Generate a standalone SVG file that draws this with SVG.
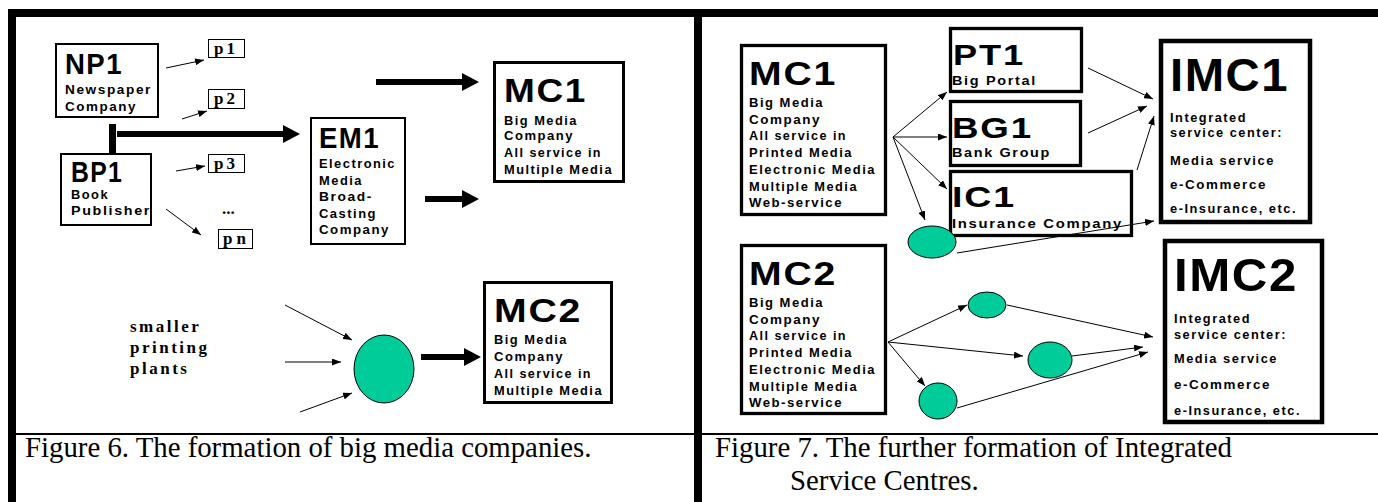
<svg xmlns="http://www.w3.org/2000/svg" width="1378" height="502" viewBox="0 0 1378 502">
<defs>
<marker id="ah" markerUnits="userSpaceOnUse" markerWidth="9" markerHeight="7" refX="9" refY="3.5" orient="auto"><path d="M0,0 L9,3.5 L0,7 z" fill="#000"/></marker>
<marker id="ahb" markerUnits="userSpaceOnUse" markerWidth="17" markerHeight="18" refX="0" refY="9" orient="auto"><path d="M0,0 L17,9 L0,18 z" fill="#000"/></marker>
</defs>
<style>
.fr{fill:#000}
.box{fill:#fff;stroke:#000}
.pbox{fill:#fff;stroke:#000;stroke-width:1}
.t{font-family:"Liberation Sans",Arial,sans-serif;font-weight:bold;fill:#000;letter-spacing:1.5px}
.s{font-family:"Liberation Serif","Times New Roman",serif;font-weight:bold;font-size:17px;fill:#000}
.cap{font-family:"Liberation Serif","Times New Roman",serif;font-size:28.8px;fill:#000}
.thin{stroke:#000;stroke-width:1;fill:none;marker-end:url(#ah)}
.thick{stroke:#000;stroke-width:6;fill:none;marker-end:url(#ahb)}
.ell{fill:#00CC99;stroke:#000;stroke-width:1}
.f13{font-size:13px}
.f12{font-size:12.5px}
</style>
<g id="frame">
<rect class="fr" x="8" y="9" width="1370" height="8"/>
<rect class="fr" x="8" y="9" width="8" height="493"/>
<rect class="fr" x="694" y="9" width="8" height="493"/>
<rect class="fr" x="16" y="433" width="1362" height="2"/>
</g>
<g id="connectors">
<line class="thin" x1="166" y1="68" x2="204" y2="60"/>
<line class="thin" x1="182" y1="119" x2="207" y2="111"/>
<line class="thin" x1="176" y1="171" x2="205" y2="166"/>
<line class="thin" x1="166" y1="209" x2="201" y2="235"/>
<rect class="fr" x="109" y="124" width="7" height="33"/>
<line class="thick" x1="117" y1="134" x2="283" y2="134"/>
<line class="thick" x1="376" y1="82" x2="462" y2="82"/>
<line class="thick" x1="425" y1="199" x2="462" y2="199"/>
<line class="thin" x1="285" y1="305" x2="352" y2="340"/>
<line class="thin" x1="285" y1="362" x2="341" y2="362"/>
<line class="thin" x1="300" y1="412" x2="352" y2="393"/>
<line class="thick" x1="421" y1="357" x2="464" y2="357"/>
<line class="thin" x1="893" y1="137" x2="947" y2="92"/>
<line class="thin" x1="893" y1="137" x2="947" y2="137"/>
<line class="thin" x1="893" y1="137" x2="947" y2="189"/>
<line class="thin" x1="893" y1="137" x2="925" y2="220"/>
<line class="thin" x1="1088" y1="68" x2="1153" y2="99"/>
<line class="thin" x1="1088" y1="133" x2="1147" y2="106"/>
<line class="thin" x1="1137" y1="170" x2="1154" y2="116"/>
<line class="thin" x1="888" y1="342" x2="967" y2="305"/>
<line class="thin" x1="888" y1="342" x2="1023" y2="356"/>
<line class="thin" x1="888" y1="342" x2="925" y2="386"/>
<line class="thin" x1="1007" y1="305" x2="1153" y2="337"/>
<line class="thin" x1="1072" y1="356" x2="1143" y2="347"/>
<line class="thin" x1="957" y1="408" x2="1148" y2="352"/>
</g>
<g id="NP1">
<rect class="box" stroke-width="2" x="56" y="44" width="102" height="73"/>
<text class="t" x="65" y="74" font-size="29" textLength="58" lengthAdjust="spacingAndGlyphs">NP1</text>
<text class="t f13" x="65" y="94" textLength="87" lengthAdjust="spacingAndGlyphs">Newspaper</text>
<text class="t f13" x="65" y="111" textLength="72" lengthAdjust="spacingAndGlyphs">Company</text>
</g>
<g id="BP1">
<rect class="box" stroke-width="2" x="61" y="154" width="90" height="71"/>
<text class="t" x="71" y="182" font-size="29" textLength="52" lengthAdjust="spacingAndGlyphs">BP1</text>
<text class="t f13" x="71" y="199" textLength="38" lengthAdjust="spacingAndGlyphs">Book</text>
<text class="t f13" x="71" y="215" textLength="80" lengthAdjust="spacingAndGlyphs">Publisher</text>
</g>
<g id="p1"><rect class="pbox" x="208.5" y="39.5" width="36" height="18"/><text class="s" x="214" y="54" textLength="21">p1</text></g>
<g id="p2"><rect class="pbox" x="208.5" y="89.5" width="36" height="19"/><text class="s" x="214" y="104" textLength="21">p2</text></g>
<g id="p3"><rect class="pbox" x="208.5" y="154.5" width="36" height="18"/><text class="s" x="214" y="169" textLength="21">p3</text></g>
<g id="dots"><text class="s" x="222" y="214">...</text></g>
<g id="pn"><rect class="pbox" x="218.5" y="229.5" width="34" height="19"/><text class="s" x="223" y="244" textLength="23">pn</text></g>
<g id="EM1">
<rect class="box" stroke-width="2" x="311" y="118" width="94" height="126"/>
<text class="t" x="319" y="148" font-size="29" textLength="61" lengthAdjust="spacingAndGlyphs">EM1</text>
<text class="t f13" x="319" y="168" textLength="77" lengthAdjust="spacingAndGlyphs">Electronic</text>
<text class="t f13" x="319" y="185" textLength="44" lengthAdjust="spacingAndGlyphs">Media</text>
<text class="t f13" x="319" y="201" textLength="54" lengthAdjust="spacingAndGlyphs">Broad-</text>
<text class="t f13" x="319" y="218" textLength="58" lengthAdjust="spacingAndGlyphs">Casting</text>
<text class="t f13" x="319" y="234" textLength="71" lengthAdjust="spacingAndGlyphs">Company</text>
</g>
<g id="MC1a">
<rect class="box" stroke-width="3" x="494.5" y="62.5" width="129" height="119"/>
<text class="t" x="504" y="102" font-size="34" textLength="83" lengthAdjust="spacingAndGlyphs">MC1</text>
<text class="t f13" x="504" y="125" textLength="74" lengthAdjust="spacingAndGlyphs">Big Media</text>
<text class="t f13" x="504" y="140" textLength="70" lengthAdjust="spacingAndGlyphs">Company</text>
<text class="t f13" x="504" y="157" textLength="98" lengthAdjust="spacingAndGlyphs">All service in</text>
<text class="t f13" x="504" y="174" textLength="109" lengthAdjust="spacingAndGlyphs">Multiple Media</text>
</g>
<g id="plants">
<text class="s" x="130" y="332" font-size="18" letter-spacing="2.5">smaller</text>
<text class="s" x="130" y="353" font-size="18" letter-spacing="2.5">printing</text>
<text class="s" x="130" y="374" font-size="18" letter-spacing="2.5">plants</text>
</g>
<g id="ellL"><ellipse class="ell" cx="384" cy="369" rx="30" ry="34"/></g>
<g id="MC2a">
<rect class="box" stroke-width="3" x="484.5" y="282.5" width="127" height="120"/>
<text class="t" x="494" y="322" font-size="34" textLength="88" lengthAdjust="spacingAndGlyphs">MC2</text>
<text class="t f13" x="494" y="344" textLength="74" lengthAdjust="spacingAndGlyphs">Big Media</text>
<text class="t f13" x="494" y="361" textLength="70" lengthAdjust="spacingAndGlyphs">Company</text>
<text class="t f13" x="494" y="378" textLength="98" lengthAdjust="spacingAndGlyphs">All service in</text>
<text class="t f13" x="494" y="395" textLength="109" lengthAdjust="spacingAndGlyphs">Multiple Media</text>
</g>
<g id="cap6"><text class="cap" x="25" y="457">Figure 6. The formation of big media companies.</text></g>
<g id="MC1b">
<rect class="box" stroke-width="3.3" x="741.5" y="45.5" width="144" height="169"/>
<text class="t" x="749" y="85" font-size="33" textLength="88" lengthAdjust="spacingAndGlyphs">MC1</text>
<text class="t f13" x="749" y="107" textLength="75" lengthAdjust="spacingAndGlyphs">Big Media</text>
<text class="t f13" x="749" y="124" textLength="72" lengthAdjust="spacingAndGlyphs">Company</text>
<text class="t f13" x="749" y="140" textLength="98" lengthAdjust="spacingAndGlyphs">All service in</text>
<text class="t f13" x="749" y="157" textLength="104" lengthAdjust="spacingAndGlyphs">Printed Media</text>
<text class="t f13" x="749" y="174" textLength="127" lengthAdjust="spacingAndGlyphs">Electronic Media</text>
<text class="t f13" x="749" y="191" textLength="109" lengthAdjust="spacingAndGlyphs">Multiple Media</text>
<text class="t f13" x="749" y="207" textLength="94" lengthAdjust="spacingAndGlyphs">Web-service</text>
</g>
<g id="PT1">
<rect class="box" stroke-width="3.3" x="950.5" y="28.5" width="131" height="63"/>
<text class="t" x="953" y="65" font-size="29" textLength="72" lengthAdjust="spacingAndGlyphs">PT1</text>
<text class="t f13" x="952" y="85" textLength="85" lengthAdjust="spacingAndGlyphs">Big Portal</text>
</g>
<g id="BG1">
<rect class="box" stroke-width="3.3" x="950.5" y="101.5" width="130" height="64"/>
<text class="t" x="952" y="138" font-size="30" textLength="81" lengthAdjust="spacingAndGlyphs">BG1</text>
<text class="t f13" x="952" y="157" textLength="99" lengthAdjust="spacingAndGlyphs">Bank Group</text>
</g>
<g id="IC1">
<rect class="box" stroke-width="3.3" x="950.5" y="171.5" width="181" height="64"/>
<text class="t" x="952" y="207" font-size="30" textLength="64" lengthAdjust="spacingAndGlyphs">IC1</text>
<text class="t f13" x="952" y="228" textLength="171" lengthAdjust="spacingAndGlyphs">Insurance Company</text>
</g>
<g id="ellE1"><ellipse class="ell" cx="932" cy="242" rx="24" ry="16"/></g>
<g id="c2"><line class="thin" x1="957" y1="253" x2="1154" y2="221"/></g>
<g id="IMC1">
<rect class="box" stroke-width="4.5" x="1161" y="41" width="149" height="181"/>
<text class="t" x="1170" y="91" font-size="47" textLength="119" lengthAdjust="spacingAndGlyphs">IMC1</text>
<text class="t f12" x="1170" y="122" textLength="77" lengthAdjust="spacingAndGlyphs">Integrated</text>
<text class="t f12" x="1170" y="137" textLength="113" lengthAdjust="spacingAndGlyphs">service center:</text>
<text class="t f12" x="1170" y="165" textLength="105" lengthAdjust="spacingAndGlyphs">Media service</text>
<text class="t f12" x="1170" y="189" textLength="97" lengthAdjust="spacingAndGlyphs">e-Commerce</text>
<text class="t f12" x="1170" y="213" textLength="127" lengthAdjust="spacingAndGlyphs">e-Insurance, etc.</text>
</g>
<g id="MC2b">
<rect class="box" stroke-width="3.3" x="741.5" y="245.5" width="144" height="168"/>
<text class="t" x="749" y="285" font-size="33" textLength="88" lengthAdjust="spacingAndGlyphs">MC2</text>
<text class="t f13" x="749" y="307" textLength="75" lengthAdjust="spacingAndGlyphs">Big Media</text>
<text class="t f13" x="749" y="324" textLength="72" lengthAdjust="spacingAndGlyphs">Company</text>
<text class="t f13" x="749" y="340" textLength="98" lengthAdjust="spacingAndGlyphs">All service in</text>
<text class="t f13" x="749" y="357" textLength="104" lengthAdjust="spacingAndGlyphs">Printed Media</text>
<text class="t f13" x="749" y="374" textLength="127" lengthAdjust="spacingAndGlyphs">Electronic Media</text>
<text class="t f13" x="749" y="391" textLength="109" lengthAdjust="spacingAndGlyphs">Multiple Media</text>
<text class="t f13" x="749" y="407" textLength="94" lengthAdjust="spacingAndGlyphs">Web-service</text>
</g>
<g id="ellA"><ellipse class="ell" cx="987" cy="305" rx="19" ry="13"/></g>
<g id="ellB"><ellipse class="ell" cx="1050" cy="360" rx="22" ry="18"/></g>
<g id="ellC"><ellipse class="ell" cx="938" cy="401" rx="19" ry="18"/></g>
<g id="IMC2">
<rect class="box" stroke-width="4.5" x="1165" y="241" width="157" height="181"/>
<text class="t" x="1174" y="291" font-size="47" textLength="124" lengthAdjust="spacingAndGlyphs">IMC2</text>
<text class="t f12" x="1174" y="323" textLength="77" lengthAdjust="spacingAndGlyphs">Integrated</text>
<text class="t f12" x="1174" y="339" textLength="113" lengthAdjust="spacingAndGlyphs">service center:</text>
<text class="t f12" x="1174" y="363" textLength="104" lengthAdjust="spacingAndGlyphs">Media service</text>
<text class="t f12" x="1174" y="389" textLength="97" lengthAdjust="spacingAndGlyphs">e-Commerce</text>
<text class="t f12" x="1174" y="415" textLength="127" lengthAdjust="spacingAndGlyphs">e-Insurance, etc.</text>
</g>
<g id="cap7">
<text class="cap" x="715" y="457">Figure 7. The further formation of Integrated</text>
<text class="cap" x="790" y="490">Service Centres.</text>
</g>
</svg>
